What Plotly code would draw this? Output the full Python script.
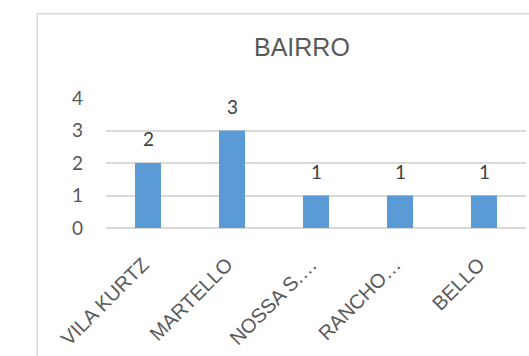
import plotly.graph_objects as go

categories = ["VILA KURTZ", "MARTELLO", "NOSSA S.…", "RANCHO…", "BELLO"]
values = [2, 3, 1, 1, 1]
y_ticks = [0, 1, 2, 3, 4]
title_text = "BAIRRO"

W, H = 529, 356
L, R = 105.5, 526.0
T, B = 98.3, 227.7

def px_x(p):
    return (p - L) / (R - L)

def px_y(p):
    return (B - p) / (B - T)

fig = go.Figure()
fig.add_trace(go.Bar(
    x=categories, y=values,
    marker=dict(color="#5B9BD5", line=dict(width=0)),
    hoverinfo="skip",
))

annotations = []
for c, v in zip(categories, values):
    annotations.append(dict(
        x=c, y=v, xref="x", yref="y", text=str(v), showarrow=False,
        yanchor="bottom", yshift=11,
        font=dict(family="Lato, Open Sans, sans-serif", size=19, color="#404040"),
    ))
annotations.append(dict(
    x=px_x(302), y=px_y(47.5), xref="paper", yref="paper", text=title_text,
    showarrow=False, xanchor="center", yanchor="middle",
    font=dict(family="Liberation Sans, Arial, sans-serif", size=25, color="#595959"),
))

shapes = [
    dict(type="line", xref="paper", yref="paper",
         x0=px_x(36.7), x1=px_x(540), y0=px_y(14.5), y1=px_y(14.5),
         line=dict(color="#d9d9d9", width=1.5)),
    dict(type="line", xref="paper", yref="paper",
         x0=px_x(36.7), x1=px_x(36.7), y0=px_y(14.5), y1=px_y(370),
         line=dict(color="#d9d9d9", width=1.5)),
]

fig.update_layout(
    width=W, height=H,
    margin=dict(l=L, r=W - R, t=T, b=H - B, pad=0),
    paper_bgcolor="white", plot_bgcolor="white",
    bargap=0.69,
    showlegend=False,
    annotations=annotations,
    shapes=shapes,
    xaxis=dict(
        type="category", tickangle=-45,
        tickfont=dict(family="Liberation Sans, Arial, sans-serif", size=20, color="#595959"),
        showgrid=False, showline=False, ticks="", ticklabelstandoff=20,
        ticklabelshift=-5,
    ),
    yaxis=dict(
        range=[0, 4], tickvals=y_ticks, ticktext=[str(t) for t in y_ticks],
        tickfont=dict(family="Lato, Open Sans, sans-serif", size=19, color="#595959"),
        showgrid=True, gridcolor="#d9d9d9", gridwidth=1.5,
        zeroline=True, zerolinecolor="#d9d9d9", zerolinewidth=1.5,
        showline=False, ticks="", ticklabelstandoff=22,
    ),
)

fig.write_html("out.html")
